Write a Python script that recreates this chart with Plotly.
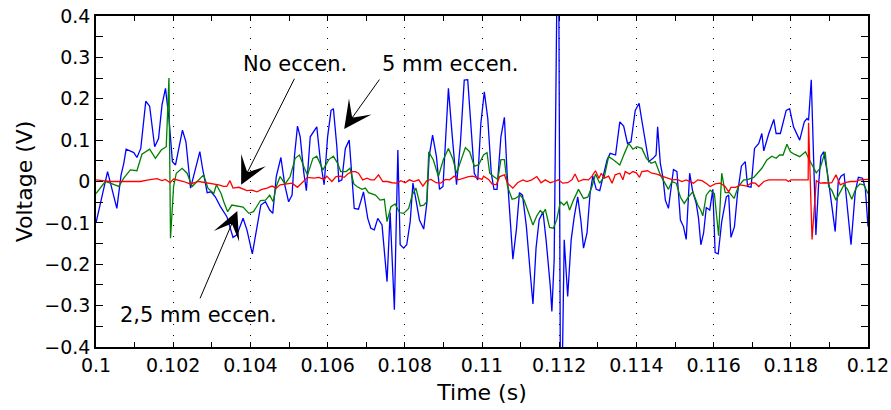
import numpy as np
import plotly.graph_objects as go

# ---- data (time in ms, voltage in V) ----
blue_t = [100.00,100.30,100.54,100.65,100.72,100.78,100.98,101.06,101.16,101.29,101.39,101.52,101.62,101.71,101.80,101.89,101.98,102.06,102.24,102.33,102.45,102.56,102.69,102.76,102.88,102.98,103.09,103.22,103.39,103.55,103.65,103.81,103.91,104.05,104.15,104.27,104.39,104.50,104.58,104.67,104.79,104.89,104.99,105.08,105.14,105.22,105.29,105.38,105.45,105.55,105.72,105.81,105.91,106.00,106.09,106.15,106.24,106.29,106.37,106.46,106.56,106.69,106.80,106.93,107.04,107.12,107.21,107.30,107.41,107.54,107.62,107.73,107.82,107.88,107.97,108.05,108.14,108.21,108.29,108.38,108.49,108.57,108.63,108.72,108.82,108.90,108.99,109.13,109.22,109.34,109.44,109.54,109.63,109.71,109.80,109.89,109.97,110.06,110.15,110.24,110.31,110.39,110.49,110.58,110.65,110.72,110.80,110.89,110.97,111.05,111.15,111.25,111.32,111.40,111.48,111.58,111.66,111.77,111.81,111.87,111.94,111.99,112.03,112.08,112.13,112.22,112.31,112.39,112.48,112.56,112.63,112.72,112.80,112.87,112.96,113.05,113.13,113.24,113.32,113.46,113.57,113.67,113.77,113.86,113.97,114.07,114.14,114.21,114.32,114.43,114.51,114.55,114.62,114.69,114.75,114.83,114.90,114.96,115.05,115.14,115.22,115.29,115.38,115.46,115.55,115.61,115.67,115.74,115.81,115.90,115.98,116.04,116.12,116.21,116.33,116.39,116.45,116.54,116.62,116.72,116.82,116.88,116.97,117.06,117.17,117.25,117.30,117.43,117.56,117.62,117.73,117.88,117.97,118.07,118.23,118.35,118.42,118.46,118.53,118.65,118.72,118.78,118.85,118.95,119.06,119.15,119.23,119.30,119.38,119.47,119.56,119.67,119.75,119.86,119.93,120.00]
blue_v = [-0.10,0.024,-0.065,0.016,0.044,0.078,0.07,0.058,0.08,0.194,0.182,0.084,0.104,0.185,0.225,0.152,0.048,0.04,0.124,0.096,-0.016,0.024,0.072,0.032,-0.027,-0.025,-0.037,-0.06,-0.085,-0.135,-0.129,-0.089,-0.117,-0.175,-0.117,-0.057,-0.049,-0.069,-0.077,0.012,0.058,-0.008,-0.049,-0.033,0.06,0.134,0.108,0.024,-0.022,0.108,0.132,0.052,-0.008,0.108,0.172,0.176,0.084,0.0,0.004,0.08,0.10,-0.065,-0.067,-0.025,-0.089,-0.113,-0.117,-0.089,-0.105,-0.242,-0.075,-0.31,0.076,-0.153,-0.161,-0.153,-0.097,-0.004,-0.045,-0.093,-0.115,-0.053,0.06,0.112,0.06,-0.019,-0.012,0.225,0.12,-0.008,0.092,0.245,0.246,0.132,0.02,0.004,0.14,0.217,0.152,0.02,-0.019,-0.019,0.108,0.155,0.02,-0.077,-0.188,-0.117,-0.027,-0.033,-0.109,-0.221,-0.296,-0.161,-0.093,-0.073,-0.141,-0.254,-0.314,-0.189,0.45,0.45,-0.45,-0.45,-0.141,-0.278,-0.141,-0.085,-0.037,-0.093,-0.161,-0.125,-0.029,0.013,-0.019,-0.022,0.012,0.052,0.068,0.064,0.144,0.134,0.092,0.096,0.172,0.189,0.148,0.112,0.048,0.056,0.064,0.132,0.044,0.008,-0.045,-0.065,-0.012,0.029,0.024,-0.093,-0.109,-0.14,0.02,-0.025,-0.053,-0.089,-0.153,-0.125,-0.063,-0.069,-0.019,-0.172,-0.175,-0.097,-0.037,-0.033,-0.135,-0.109,-0.029,0.037,0.048,-0.012,-0.014,0.08,0.092,0.116,0.074,0.116,0.15,0.116,0.116,0.172,0.176,0.132,0.1,0.144,0.152,0.148,0.246,-0.129,-0.008,0.061,0.072,0.02,-0.057,-0.121,0.0,0.013,0.018,-0.061,-0.153,-0.025,0.01,0.008,-0.016,-0.109]

green_t = [100.00,100.24,100.37,100.59,100.72,100.89,101.06,101.19,101.39,101.54,101.69,101.82,101.89,101.93,102.01,102.08,102.23,102.36,102.49,102.66,102.79,102.90,103.05,103.12,103.24,103.31,103.41,103.52,103.65,103.81,103.96,104.08,104.26,104.39,104.50,104.59,104.67,104.77,104.90,105.03,105.16,105.27,105.40,105.48,105.62,105.72,105.88,106.03,106.15,106.26,106.34,106.48,106.58,106.68,106.76,106.89,106.98,107.06,107.24,107.36,107.47,107.54,107.64,107.75,107.86,107.97,108.10,108.19,108.29,108.40,108.49,108.57,108.62,108.74,108.87,109.00,109.13,109.25,109.34,109.46,109.57,109.68,109.80,109.91,110.04,110.13,110.20,110.30,110.41,110.49,110.58,110.66,110.78,110.86,110.99,111.09,111.21,111.32,111.42,111.51,111.58,111.64,111.75,111.85,111.94,112.03,112.12,112.20,112.27,112.37,112.50,112.63,112.74,112.85,112.94,113.05,113.17,113.28,113.41,113.57,113.69,113.80,113.91,114.01,114.14,114.26,114.38,114.49,114.62,114.72,114.83,114.92,115.03,115.14,115.24,115.35,115.46,115.59,115.67,115.72,115.81,115.91,116.02,116.13,116.21,116.30,116.41,116.53,116.64,116.78,116.86,117.04,117.17,117.25,117.38,117.51,117.62,117.71,117.80,117.90,117.99,118.09,118.23,118.38,118.46,118.57,118.66,118.76,118.89,118.98,119.06,119.17,119.28,119.38,119.47,119.58,119.69,119.79,119.89,120.00]
green_v = [-0.029,0.0,-0.004,-0.012,0.008,0.028,0.026,0.066,0.078,0.056,0.076,0.084,0.25,-0.137,-0.012,0.02,0.032,0.02,-0.012,0.005,0.016,-0.016,-0.029,-0.008,-0.029,-0.049,-0.073,-0.057,-0.059,-0.062,-0.077,-0.073,-0.046,-0.045,-0.033,-0.049,-0.012,0.012,-0.006,0.012,0.056,0.064,0.032,0.016,0.056,0.061,0.028,0.053,0.061,0.044,0.024,0.024,0.032,-0.006,-0.012,-0.019,-0.016,-0.027,-0.033,-0.045,-0.043,-0.097,-0.061,-0.054,-0.075,-0.077,-0.065,-0.033,-0.016,-0.059,-0.057,-0.049,0.072,0.052,0.012,0.053,0.08,0.053,0.02,0.052,0.082,0.072,0.037,0.04,0.064,0.07,0.02,0.012,0.005,0.053,0.053,-0.012,-0.043,-0.041,-0.033,-0.045,-0.075,-0.105,-0.083,-0.07,-0.077,-0.067,-0.111,-0.113,-0.091,-0.049,-0.057,-0.049,-0.069,-0.045,-0.019,-0.041,-0.038,-0.012,0.018,-0.004,0.012,0.06,0.052,0.04,0.068,0.092,0.078,0.084,0.08,0.056,0.044,0.048,0.016,0.0,-0.019,0.0,-0.004,-0.038,-0.053,-0.037,-0.025,-0.057,-0.07,-0.083,-0.033,-0.021,-0.029,-0.131,0.02,-0.027,-0.027,-0.041,-0.012,0.004,0.004,0.01,0.024,0.032,0.052,0.061,0.056,0.064,0.064,0.09,0.072,0.066,0.06,0.072,0.056,0.036,0.021,0.032,0.072,-0.012,-0.021,-0.045,-0.025,-0.008,-0.019,-0.043,-0.016,-0.006,-0.008,-0.029]

red_t = [100.00,100.37,100.72,101.15,101.36,101.58,101.71,101.80,101.92,102.01,102.27,102.44,102.66,102.96,103.18,103.30,103.39,103.47,103.55,103.70,103.81,103.91,104.04,104.17,104.30,104.43,104.56,104.67,104.77,104.90,105.08,105.22,105.36,105.48,105.64,105.77,105.91,105.98,106.11,106.22,106.33,106.43,106.52,106.63,106.72,106.80,106.91,107.02,107.12,107.21,107.32,107.43,107.55,107.67,107.80,107.90,108.01,108.12,108.23,108.36,108.47,108.57,108.68,108.81,108.93,109.05,109.16,109.28,109.39,109.52,109.65,109.76,109.87,110.00,110.04,110.17,110.26,110.37,110.46,110.58,110.66,110.80,110.92,111.06,111.16,111.29,111.42,111.53,111.64,111.77,111.87,111.98,112.09,112.22,112.33,112.41,112.50,112.63,112.76,112.85,112.94,113.03,113.09,113.17,113.28,113.37,113.45,113.57,113.65,113.71,113.82,113.91,114.00,114.08,114.14,114.29,114.40,114.53,114.66,114.79,114.94,115.06,115.18,115.29,115.39,115.48,115.59,115.70,115.83,115.91,116.04,116.17,116.30,116.39,116.45,116.57,116.69,116.86,116.99,117.08,117.17,117.30,117.43,117.64,117.88,117.94,118.00,118.24,118.45,118.46,118.55,118.66,118.76,118.89,118.98,119.06,119.17,119.28,119.41,119.54,119.67,119.79,119.92,120.00]
red_v = [0.004,0.0,0.0,0.0,0.004,0.007,0.002,0.005,-0.003,0.006,0.0,-0.006,0.0,-0.004,-0.008,-0.012,-0.012,0.002,-0.016,-0.014,-0.019,-0.022,-0.021,-0.025,-0.019,-0.016,-0.011,-0.016,-0.008,-0.006,-0.004,-0.014,0.0,0.01,0.008,0.01,0.005,0.013,0.0,0.012,0.013,0.01,0.018,0.024,0.024,0.02,0.004,0.008,0.004,0.004,0.016,0.0,0.0,-0.003,-0.004,0.002,-0.003,0.004,0.0,0.004,-0.011,0.002,0.005,-0.003,-0.004,0.005,0.004,0.013,0.004,0.008,0.012,0.013,0.01,0.005,0.013,0.005,-0.006,-0.008,0.012,0.016,-0.004,-0.016,-0.003,0.004,0.0,0.004,0.012,-0.003,0.004,-0.003,0.0,0.004,-0.004,-0.003,0.004,0.018,0.0,0.005,0.004,0.013,0.026,0.008,0.02,0.008,0.013,-0.004,0.016,0.02,0.004,0.024,0.018,0.024,0.021,0.01,0.024,0.026,0.02,0.018,0.013,0.008,0.004,0.005,0.0,0.004,0.0,-0.004,0.004,0.002,-0.006,-0.012,-0.006,-0.004,-0.012,-0.025,-0.014,-0.014,-0.008,-0.011,-0.003,-0.004,-0.012,0.0,0.004,0.004,0.004,0.0,0.004,0.004,0.004,0.142,-0.14,0.002,-0.004,-0.003,-0.004,-0.003,0.016,-0.008,-0.003,0.0,0.0,0.004,0.005,0.005]

x_tickvals = [0.1, 0.102, 0.104, 0.106, 0.108, 0.11, 0.112, 0.114, 0.116, 0.118, 0.12]
x_ticktext = ["0.1", "0.102", "0.104", "0.106", "0.108", "0.11", "0.112", "0.114", "0.116", "0.118", "0.12"]
y_tickvals = [-0.4, -0.3, -0.2, -0.1, 0, 0.1, 0.2, 0.3, 0.4]
y_ticktext = ["\u22120.4", "\u22120.3", "\u22120.2", "\u22120.1", "0", "0.1", "0.2", "0.3", "0.4"]

FONT = "DejaVu Sans, Liberation Sans, Arial, sans-serif"

fig = go.Figure()
for t, v, col in [(blue_t, blue_v, "#0000ff"), (green_t, green_v, "#008000"), (red_t, red_v, "#ff0000")]:
    fig.add_trace(go.Scatter(x=np.array(t) / 1000.0, y=v, mode="lines",
                             line=dict(color=col, width=1.3), showlegend=False))

# annotations: (label, text x, text y, tail x, tail y, tip x, tip y) in data units
notes = [
    ("No eccen.", 0.10516, 0.283, 0.10516, 0.252, 0.10376, -0.008),
    ("5 mm eccen.", 0.10918, 0.283, 0.10737, 0.25, 0.10643, 0.127),
    ("2,5 mm eccen.", 0.10266, -0.322, 0.10268, -0.286, 0.10366, -0.071),
]
for label, tx, ty, ax, ay, hx, hy in notes:
    fig.add_annotation(x=tx, y=ty, text=label, showarrow=False,
                       font=dict(family=FONT, size=21, color="black"))
    fig.add_annotation(x=hx, y=hy, ax=ax, ay=ay, axref="x", ayref="y", text="",
                       showarrow=True, arrowhead=3, arrowsize=4.6, arrowwidth=1,
                       arrowcolor="black")

axis_common = dict(showline=True, linecolor="black", linewidth=1.5, mirror="ticks",
                   ticks="inside", tickcolor="black", tickwidth=1, zeroline=False,
                   automargin=False,
                   tickfont=dict(family=FONT, size=19, color="black"))
fig.update_xaxes(range=[0.1, 0.12], tickvals=x_tickvals, ticktext=x_ticktext, ticklen=5,
                 showgrid=True, gridcolor="black", gridwidth=1, griddash="1px,10px",
                 minor=dict(ticks="inside", dtick=0.001, tick0=0.1, ticklen=5, tickcolor="black", showgrid=False),
                 title=dict(text="Time (s)", font=dict(family=FONT, size=22, color="black"), standoff=10),
                 **axis_common)
fig.update_yaxes(range=[-0.4, 0.4], tickvals=y_tickvals, ticktext=y_ticktext, ticklen=7,
                 showgrid=False,
                 minor=dict(ticks="inside", dtick=0.05, tick0=0, ticklen=7, tickcolor="black", showgrid=False),
                 title=dict(text="Voltage (V)", font=dict(family=FONT, size=22, color="black"), standoff=6),
                 **axis_common)
fig.update_layout(width=891, height=410, margin=dict(l=96, r=23, t=16, b=63),
                  plot_bgcolor="white", paper_bgcolor="white",
                  font=dict(family=FONT, color="black"))
fig.write_html("out.html")
